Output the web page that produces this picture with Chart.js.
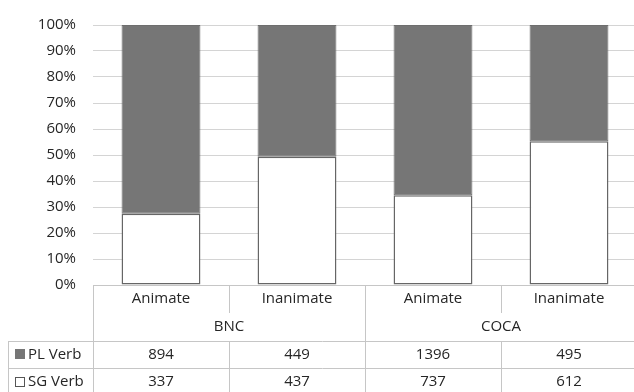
<!DOCTYPE html>
<html>
<head>
<meta charset="utf-8">
<script src="https://cdn.jsdelivr.net/npm/chart.js@4/dist/chart.umd.min.js"></script>
<style>
  html, body { margin: 0; padding: 0; background: #fff; overflow: hidden; }
  #wrap { position: relative; width: 637px; height: 393px; margin-top: -1px; }
</style>
</head>
<body>
<div id="wrap"><canvas id="c"></canvas></div>
<script>
// Corpus groups and the animacy categories under each
const groups = ['BNC', 'COCA'];
const categories = ['Animate', 'Inanimate', 'Animate', 'Inanimate'];
// Raw counts per verb agreement type
const plVerb = [894, 449, 1396, 495];
const sgVerb = [337, 437, 737, 612];
const seriesNames = ['PL Verb', 'SG Verb'];
const yTicks = [0, 10, 20, 30, 40, 50, 60, 70, 80, 90, 100];

const totals = plVerb.map((v, i) => v + sgVerb[i]);
const plShare = plVerb.map((v, i) => v / totals[i] * 100);
const sgShare = sgVerb.map((v, i) => v / totals[i] * 100);

const FONT = '"Open Sans", "Liberation Sans", sans-serif';
const TEXT = '#262626';
const LINE = '#c6c6c6';
const DARK = '#767676';
const FS = 15;

// Data table drawn beneath the plot area, aligned to the x scale columns
const dataTable = {
  id: 'dataTable',
  afterDraw(chart) {
    const ctx = chart.ctx;
    const x = chart.scales.x;
    const area = chart.chartArea;
    const colW = (x.right - x.left) / categories.length;
    const top = area.bottom;
    const row1 = top + 28;   // under the category labels
    const row2 = top + 56;   // under the group labels
    const row3 = top + 83;
    const row4 = top + 112;
    const rowHeadLeft = 8;

    ctx.save();
    ctx.strokeStyle = LINE;
    ctx.lineWidth = 1;
    const h = (x1, x2, y) => { ctx.beginPath(); ctx.moveTo(x1, Math.round(y) + 0.5); ctx.lineTo(x2, Math.round(y) + 0.5); ctx.stroke(); };
    const v = (xx, y1, y2) => { ctx.beginPath(); ctx.moveTo(Math.round(xx) + 0.5, y1); ctx.lineTo(Math.round(xx) + 0.5, y2); ctx.stroke(); };

    h(x.left, chart.width, top);
    h(rowHeadLeft, chart.width, row2);
    h(rowHeadLeft, chart.width, row3);
    h(rowHeadLeft, chart.width, row4);
    v(rowHeadLeft, row2, row4);
    v(x.left, top, row4);
    for (let i = 1; i < categories.length; i++) {
      const xx = x.left + i * colW;
      if (i % 2 === 0) {
        v(xx, top, row4);
      } else {
        v(xx, top, row1);
        v(xx, row2, row4);
      }
    }

    ctx.fillStyle = TEXT;
    ctx.font = FS + 'px ' + FONT;
    ctx.textAlign = 'center';
    ctx.textBaseline = 'middle';
    categories.forEach((c, i) => {
      const cx = x.getPixelForValue(i);
      ctx.fillText(c, cx, top + 14);
      ctx.fillText(String(plVerb[i]), cx, row2 + 14);
      ctx.fillText(String(sgVerb[i]), cx, row3 + 14);
    });
    groups.forEach((g, gi) => {
      const cx = x.left + (gi * 2 + 1) * colW;
      ctx.fillText(g, cx, row1 + 14);
    });

    // Row headers with legend keys
    ctx.textAlign = 'left';
    const keyX = 15, keyS = 10;
    ctx.fillStyle = DARK;
    ctx.fillRect(keyX, row2 + 8, keyS, keyS);
    ctx.strokeStyle = '#555555';
    ctx.strokeRect(keyX + 0.5, row3 + 9.5, keyS - 1, keyS - 1);
    ctx.fillStyle = TEXT;
    ctx.fillText(seriesNames[0], keyX + keyS + 3, row2 + 14);
    ctx.fillText(seriesNames[1], keyX + keyS + 3, row3 + 14);
    ctx.restore();
  }
};

new Chart(document.getElementById('c'), {
  type: 'bar',
  data: {
    labels: categories,
    datasets: [
      {
        label: seriesNames[1],
        data: sgShare,
        backgroundColor: '#ffffff',
        borderColor: '#666666',
        borderWidth: 1.5,
        borderSkipped: false,
        barPercentage: 0.58,
        categoryPercentage: 1
      },
      {
        label: seriesNames[0],
        data: plShare,
        backgroundColor: DARK,
        borderColor: '#6e6e6e',
        borderWidth: 1,
        borderSkipped: false,
        barPercentage: 0.58,
        categoryPercentage: 1
      }
    ]
  },
  options: {
    responsive: true,
    maintainAspectRatio: false,
    animation: false,
    layout: { padding: { top: 15, right: 0, bottom: 107, left: 0 } },
    plugins: {
      legend: { display: false },
      tooltip: { enabled: false }
    },
    scales: {
      x: {
        stacked: true,
        display: false
      },
      y: {
        stacked: true,
        min: 0,
        max: 100,
        afterBuildTicks(scale) { scale.ticks = yTicks.map(t => ({ value: t })); },
        afterFit(scale) { scale.width = 93; },
        ticks: {
          callback: v => v + '%',
          color: TEXT,
          font: { family: FONT, size: FS },
          padding: 17
        },
        border: { display: false },
        grid: { color: '#d4d4d4', drawTicks: false, lineWidth: 1 }
      }
    }
  },
  plugins: [dataTable]
});
</script>
</body>
</html>
